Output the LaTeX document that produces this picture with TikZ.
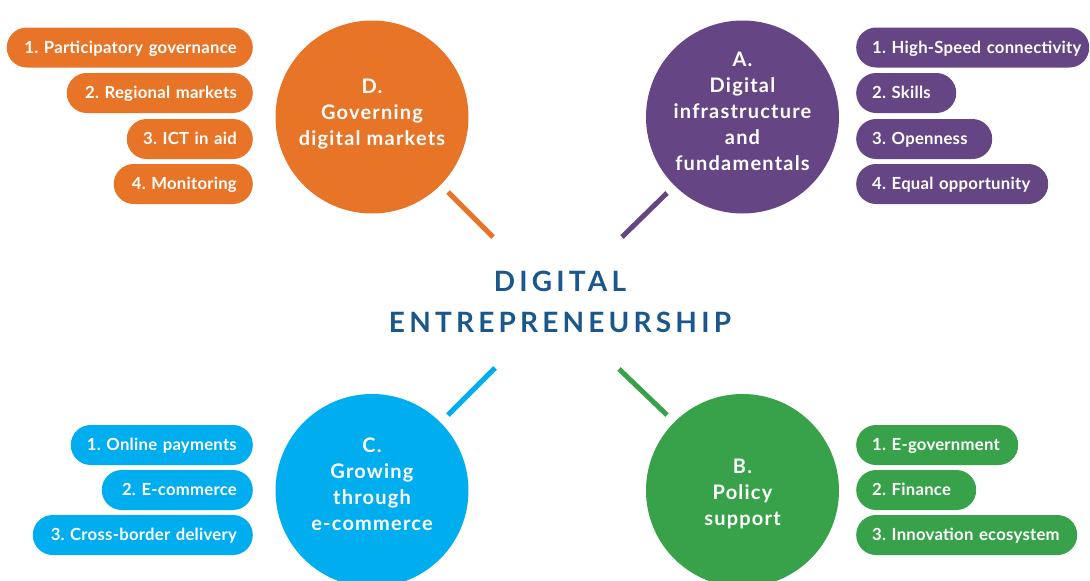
\documentclass[tikz,border=0pt]{standalone}
\usepackage{fontspec}
\setmainfont{Lato}
\newfontfamily\pillfont{Lato Bold}[LetterSpace=1.5]
\newfontfamily\circfont{Lato Bold}[LetterSpace=6]
\newfontfamily\titlefont{Lato Bold}[LetterSpace=15]
\definecolor{cD}{HTML}{E87428}
\definecolor{cA}{HTML}{654583}
\definecolor{cC}{HTML}{00AEEF}
\definecolor{cB}{HTML}{38A24A}
\definecolor{ctitle}{HTML}{1A578C}
\frenchspacing
\begin{document}
\begin{tikzpicture}[x=1pt,y=-1pt,
  pill/.style={rounded corners=19.9pt, minimum height=40pt, inner xsep=16pt, inner ysep=0pt,
    text height=13pt, text depth=1.4pt,
    text=white, font=\pillfont\fontsize{16.7}{19}\selectfont},
  pillL/.style={pill, anchor=east, align=right},
  pillR/.style={pill, anchor=west, align=left},
  circ/.style={circle, minimum size=193pt, inner sep=0pt},
  ctext/.style={text=white, align=center, anchor=north, inner sep=0pt,
    font=\circfont\fontsize{20}{26}\selectfont},
  conn/.style={line width=5pt}]
\useasboundingbox (0,0) rectangle (1090,581);

% circles
\node[circ, fill=cD] (D) at (372,117) {};
\node[circ, fill=cA] (A) at (742.5,117) {};
\node[circ, fill=cC] (C) at (372,490.5) {};
\node[circ, fill=cB] (B) at (742.5,490.5) {};

\node[ctext] (Dt) at (372,79) {D.\\Governing\\digital markets};
\node[ctext] (At) at (742.5,52) {A.\\Digital\\infrastructure\\and\\fundamentals};
\node[ctext] (Ct) at (372,438) {C.\\Growing\\through\\e-commerce};
\node[ctext] (Bt) at (742.5,459) {B.\\Policy\\support};

% title
\node[text=ctitle, align=center, inner sep=0pt, font=\titlefont\fontsize{28}{41}\selectfont] (title) at (560,301.5)
  {DIGITAL\\ENTREPRENEURSHIP};

% connectors
\coordinate (D1) at (448,192); \coordinate (D2) at (493,237);
\coordinate (A1) at (667,193); \coordinate (A2) at (622,237);
\coordinate (C1) at (448,415); \coordinate (C2) at (495,368);
\coordinate (B1) at (619,369); \coordinate (B2) at (667,415);
\draw[conn, cD] (D1) -- (D2);
\draw[conn, cA] (A1) -- (A2);
\draw[conn, cC] (C1) -- (C2);
\draw[conn, cB] (B1) -- (B2);

% D pills
\node[pillL, fill=cD, text width=214pt] (D1p) at (253,47.5) {\mbox{1. Participatory governance}};
\node[pillL, fill=cD, text width=154pt] (D2p) at (253,93) {\mbox{2. Regional markets}};
\node[pillL, fill=cD, text width=94pt] (D3p) at (253,139) {\mbox{3. ICT in aid}};
\node[pillL, fill=cD, text width=107pt] (D4p) at (253,184) {\mbox{4. Monitoring}};

% A pills
\node[pillR, fill=cA, text width=201pt] (A1p) at (856,47.5) {\mbox{1. High-Speed connectivity}};
\node[pillR, fill=cA, text width=68pt] (A2p) at (856,93) {\mbox{2. Skills}};
\node[pillR, fill=cA, text width=104pt] (A3p) at (856,139) {\mbox{3. Openness}};
\node[pillR, fill=cA, text width=160pt] (A4p) at (856,184) {\mbox{4. Equal opportunity}};

% C pills
\node[pillL, fill=cC, text width=150pt] (C1p) at (253,445) {\mbox{1. Online payments}};
\node[pillL, fill=cC, text width=119pt] (C2p) at (253,490) {\mbox{2. E-commerce}};
\node[pillL, fill=cC, text width=188pt] (C3p) at (253,535) {\mbox{3. Cross-border delivery}};

% B pills
\node[pillR, fill=cB, text width=130pt] (B1p) at (856,445) {\mbox{1. E-government}};
\node[pillR, fill=cB, text width=88pt] (B2p) at (856,490) {\mbox{2. Finance}};
\node[pillR, fill=cB, text width=189pt] (B3p) at (856,535) {\mbox{3. Innovation ecosystem}};
\end{tikzpicture}
\end{document}
